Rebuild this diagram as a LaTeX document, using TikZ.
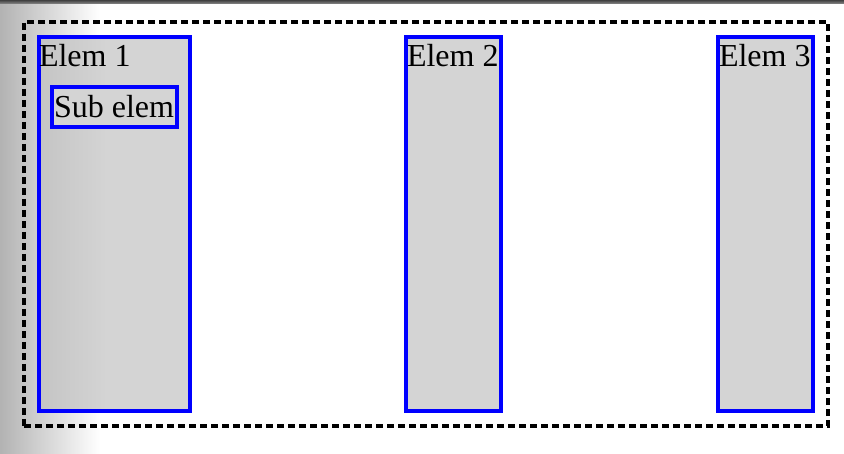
\documentclass[tikz,border=0pt]{standalone}
\usepackage{fontspec}
\setmainfont{Liberation Serif}
\tikzset{
  x=1pt,y=1pt,
  elembox/.style={draw=blue, fill=black!17, line width=3.8pt, rectangle, inner sep=0pt, outer sep=0pt, anchor=north west},
  elemtext/.style={inner sep=0pt, outer sep=0pt, anchor=base west, font=\fontsize{32}{38}\selectfont},
  framebox/.style={draw=black, line width=3.4pt, dash pattern=on 7pt off 4pt, rectangle, inner sep=0pt, outer sep=0pt, anchor=north west, minimum width=804pt, minimum height=404pt}
}
\begin{document}
\begin{tikzpicture}
\useasboundingbox (0,0) rectangle (844,-454);
\fill[white] (0,0) rectangle (844,-454);
% left background shade
\shade[left color=black!30, right color=white] (0,0) rectangle (100,-454);
% top bar
\shade[top color=black!75, bottom color=black!45] (0,0) rectangle (844,-4);

\node[framebox] (frame) at (24,-22) {};

\node[elembox, minimum width=151pt, minimum height=374pt] (e1) at (39,-37) {};
% shadow on the first box
\shade[left color=black!23, right color=black!17] (39,-37) rectangle (105,-411);
\node[elembox, fill=none, minimum width=151pt, minimum height=374pt] (e1b) at (39,-37) {};
\node[elembox, minimum width=125pt, minimum height=40pt] (sub) at (52,-87) {};
\node[elembox, minimum width=95pt, minimum height=374pt] (e2) at (406,-37) {};
\node[elembox, minimum width=95pt, minimum height=374pt] (e3) at (718,-37) {};

\node[elemtext] (t1) at (39,-67) {Elem 1};
\node[elemtext] (t2) at (407,-67) {Elem 2};
\node[elemtext] (t3) at (719,-67) {Elem 3};
\node[elemtext] (t4) at (54,-118) {Sub elem};
\end{tikzpicture}
\end{document}
